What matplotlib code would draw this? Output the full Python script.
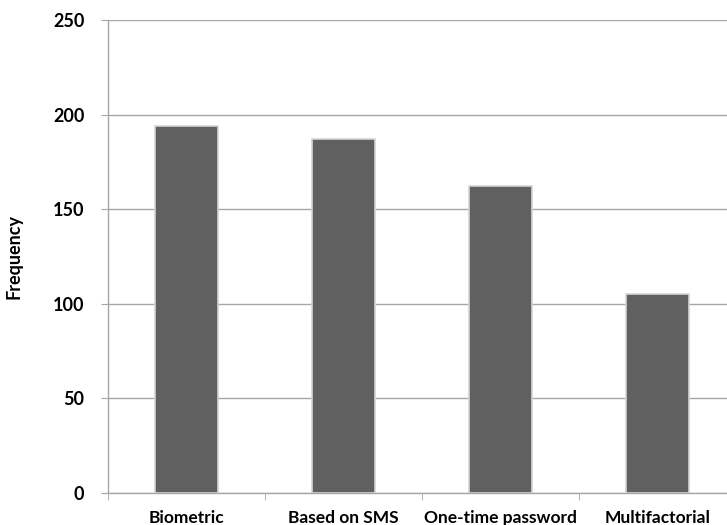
import matplotlib.pyplot as plt
import numpy as np

categories = ["Biometric", "Based on SMS", "One-time password", "Multifactorial"]
frequency = [194, 187, 162, 105]
y_ticks = [0, 50, 100, 150, 200, 250]

plt.rcParams["font.family"] = ["Lato", "DejaVu Sans"]

fig = plt.figure(figsize=(7.27, 5.25), dpi=100, facecolor="white")
# axes run slightly past the right edge, so the last category is cut off
ax = fig.add_axes([108 / 727, 32 / 525, 628 / 727, 473 / 525])

x = np.arange(len(categories))
ax.bar(x, frequency, width=0.4, color="#606060", edgecolor="#d4d4d4",
       linewidth=1.2, zorder=3)

ax.set_xlim(-0.5, len(categories) - 0.5)
ax.set_ylim(0, 250)
ax.set_yticks(y_ticks)
ax.set_yticklabels([str(v) for v in y_ticks], fontsize=13, fontweight="bold")
ax.yaxis.grid(True, color="#a6a6a6", linewidth=1.0, zorder=0)

# category labels centered, tick marks on the category boundaries
ax.set_xticks(x)
ax.set_xticklabels(categories, fontsize=12.5, fontweight="bold")
ax.tick_params(axis="x", length=0, pad=12)
ax.set_xticks(np.arange(len(categories) + 1) - 0.5, minor=True)
ax.tick_params(axis="x", which="minor", length=5, color="#a6a6a6")
ax.tick_params(axis="y", length=5, color="#a6a6a6", pad=12)

for side in ("top", "right"):
    ax.spines[side].set_visible(False)
for side in ("left", "bottom"):
    ax.spines[side].set_color("#a6a6a6")
    ax.spines[side].set_linewidth(1.0)

ax.set_ylabel("Frequency", fontsize=13, fontweight="bold", labelpad=22)

fig.savefig("out.png", dpi=100, facecolor="white")
